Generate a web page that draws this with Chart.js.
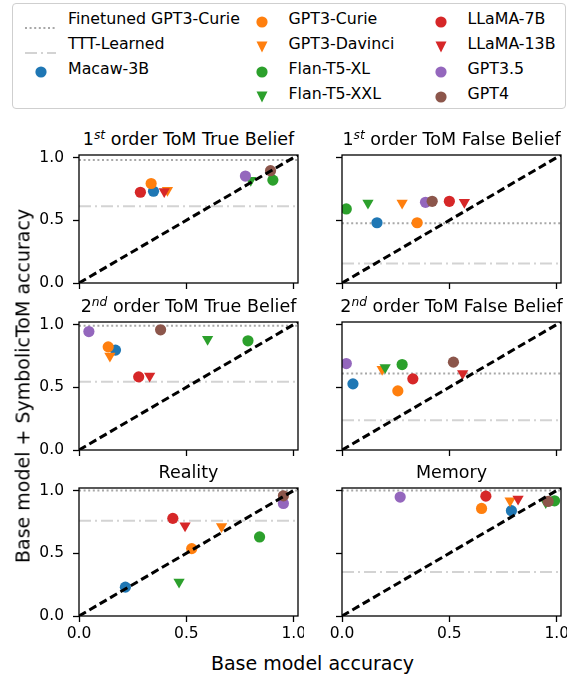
<!DOCTYPE html>
<html><head><meta charset="utf-8">
<script src="https://cdn.jsdelivr.net/npm/chart.js@4.4.0/dist/chart.umd.min.js"></script>
<style>
html,body{margin:0;padding:0;background:#fff;}
body{width:576px;height:675px;position:relative;overflow:hidden;font-family:"DejaVu Sans",sans-serif;color:#000;}
canvas{position:absolute;}
.t{position:absolute;white-space:nowrap;line-height:1;z-index:5;}
#legend{position:absolute;left:12px;top:3px;width:552px;height:104px;border:1px solid #cfcfcf;border-radius:4px;z-index:5;}
.li{position:absolute;white-space:nowrap;line-height:1;font-size:15.8px;}
.ls{position:absolute;}
</style></head><body>
<div id="legend"></div>
<script>
// ---- data ----
const MODELS = ['Macaw-3B','GPT3-Curie','GPT3-Davinci','Flan-T5-XL','Flan-T5-XXL','LLaMA-7B','LLaMA-13B','GPT3.5','GPT4'];
const COLORS = ['#1f77b4','#ff7f0e','#ff7f0e','#2ca02c','#2ca02c','#d62728','#d62728','#9467bd','#8c564b'];
const SHAPES = ['circle','circle','triangle','circle','triangle','circle','triangle','circle','circle'];
const TITLES = ['1st order ToM True Belief','1st order ToM False Belief','2nd order ToM True Belief','2nd order ToM False Belief','Reality','Memory'];
// base model accuracy per panel (models in MODELS order)
const BASE_ACC = [
  [0.347, 0.336, 0.412, 0.903, 0.800, 0.286, 0.397, 0.775, 0.892],
  [0.163, 0.350, 0.280, 0.020, 0.121, 0.500, 0.570, 0.389, 0.420],
  [0.170, 0.136, 0.144, 0.787, 0.599, 0.278, 0.329, 0.046, 0.380],
  [0.051, 0.260, 0.187, 0.280, 0.201, 0.330, 0.562, 0.020, 0.519],
  [0.216, 0.525, 0.664, 0.841, 0.466, 0.437, 0.494, 0.952, 0.952],
  [0.789, 0.650, 0.783, 0.990, 0.949, 0.670, 0.820, 0.271, 0.960]
];
// base model + SymbolicToM accuracy per panel
const SYM_ACC = [
  [0.731, 0.793, 0.740, 0.820, 0.818, 0.723, 0.730, 0.852, 0.895],
  [0.480, 0.480, 0.638, 0.590, 0.638, 0.651, 0.643, 0.643, 0.651],
  [0.796, 0.822, 0.750, 0.870, 0.883, 0.583, 0.590, 0.944, 0.958],
  [0.527, 0.471, 0.644, 0.681, 0.657, 0.567, 0.609, 0.689, 0.700],
  [0.230, 0.537, 0.714, 0.630, 0.270, 0.778, 0.720, 0.897, 0.958],
  [0.839, 0.857, 0.918, 0.918, 0.905, 0.955, 0.932, 0.948, 0.913]
];
const FINETUNED_CURIE = [0.98, 0.477, 0.99, 0.609, 1.0, 1.0];
const TTT_LEARNED = [0.611, 0.156, 0.543, 0.237, 0.76, 0.35];
const AXIS_TICKS = [0, 0.5, 1.0];
const AXIS_MAX = 1.02;

// ---- layout ----
const PLOT_LEFT = [79, 342], PLOT_TOP = [155, 322, 488], PLOT_W = 219, PLOT_H = 128;
const PAD_L = 50, PAD_R = 6, PAD_T = 6, PAD_B = 34;
const FONT = 'DejaVu Sans';
const FINETUNE_STYLE = {color:'#a8a8a8', dash:[2,2.6], width:2};
const TTT_STYLE = {color:'#d3d3d3', dash:[12,4,2,4], width:2};

const framePlugin = {
  id:'frame',
  afterDatasetsDraw(chart){
    const a = chart.chartArea, ctx = chart.ctx;
    ctx.save(); ctx.strokeStyle='#000'; ctx.lineWidth=1.3;
    ctx.strokeRect(a.left, a.top, a.right-a.left, a.bottom-a.top);
    ctx.restore();
  }
};

function addText(html, css){
  const d = document.createElement('div');
  d.className='t'; d.innerHTML = html; Object.assign(d.style, css);
  document.body.appendChild(d); return d;
}

for (let p = 0; p < 6; p++){
  const r = Math.floor(p/2), c = p%2;
  const cv = document.createElement('canvas');
  const W = PAD_L+PLOT_W+PAD_R, H = PAD_T+PLOT_H+PAD_B;
  cv.width = W; cv.height = H;
  cv.style.left = (PLOT_LEFT[c]-PAD_L)+'px'; cv.style.top = (PLOT_TOP[r]-PAD_T)+'px';
  cv.style.width = W+'px'; cv.style.height = H+'px';
  document.body.appendChild(cv);

  const datasets = [];
  datasets.push({data:[{x:0,y:0},{x:AXIS_MAX,y:AXIS_MAX}], showLine:true, borderColor:'#000', borderWidth:3, borderDash:[8,4], pointRadius:0, order:0});
  datasets.push({data:[{x:0,y:FINETUNED_CURIE[p]},{x:AXIS_MAX,y:FINETUNED_CURIE[p]}], showLine:true, borderColor:FINETUNE_STYLE.color, borderWidth:FINETUNE_STYLE.width, borderDash:FINETUNE_STYLE.dash, pointRadius:0, order:40});
  datasets.push({data:[{x:0,y:TTT_LEARNED[p]},{x:AXIS_MAX,y:TTT_LEARNED[p]}], showLine:true, borderColor:TTT_STYLE.color, borderWidth:TTT_STYLE.width, borderDash:TTT_STYLE.dash, pointRadius:0, order:41});
  MODELS.forEach((m,i)=>{
    const tri = SHAPES[i]==='triangle';
    datasets.push({label:m, data:[{x:BASE_ACC[p][i], y:SYM_ACC[p][i]}],
      pointStyle:SHAPES[i], pointRotation: tri?180:0, pointRadius: tri?6.5:5.6,
      pointBackgroundColor:COLORS[i], pointBorderWidth:0, borderWidth:0, clip:0, order:20-i});
  });

  const tickFont = {family:FONT, size:15.5};
  new Chart(cv, {
    type:'scatter',
    data:{datasets},
    options:{
      responsive:false, animation:false, devicePixelRatio:1, events:[],
      layout:{padding:{left:0,top:PAD_T,right:PAD_R,bottom:0}, autoPadding:false},
      plugins:{legend:{display:false}, tooltip:{enabled:false}, title:{display:false}},
      scales:{
        x:{type:'linear', min:0, max:AXIS_MAX,
          afterBuildTicks:s=>{ s.ticks = AXIS_TICKS.map(v=>({value:v})); },
          afterFit:s=>{ s.height = PAD_B; s.paddingLeft=0; s.paddingRight=0; },
          border:{display:false},
          grid:{display:true, drawOnChartArea:false, drawTicks:true, tickLength:6, tickColor:'#000', tickWidth:1.3},
          ticks:{display:r===2, padding:3, font:tickFont, color:'#000', maxRotation:0, autoSkip:false, callback:v=>Number(v).toFixed(1)}
        },
        y:{type:'linear', min:0, max:AXIS_MAX,
          afterBuildTicks:s=>{ s.ticks = AXIS_TICKS.map(v=>({value:v})); },
          afterFit:s=>{ s.width = PAD_L; s.paddingTop=0; s.paddingBottom=0; },
          border:{display:false},
          grid:{display:true, drawOnChartArea:false, drawTicks:true, tickLength:6, tickColor:'#000', tickWidth:1.3},
          ticks:{display:c===0, padding:9, font:tickFont, color:'#000', callback:v=>Number(v).toFixed(1)}
        }
      }
    },
    plugins:[framePlugin]
  });

  // subplot title
  const th = TITLES[p].replace(/^(\d)(st|nd|rd|th)/, '$1<span style="font-size:0.7em;font-style:italic;position:relative;top:-0.5em">$2</span>');
  addText(th, {fontSize:'17.5px', left:(PLOT_LEFT[c]+PLOT_W/2)+'px', top:(PLOT_TOP[r]-9.5-14.8)+'px', transform:'translateX(-50%)'});
}

// axis labels
addText('Base model accuracy', {fontSize:'19px', left:'312.5px', top:'654px', transform:'translateX(-50%)'});
addText('Base model + SymbolicToM accuracy', {fontSize:'19px', left:'22.5px', top:'386px', transform:'translate(-50%,-50%) rotate(-90deg)'});

// legend
const legend = document.getElementById('legend');
const LEG_ROW_Y = [18.5, 43.5, 68.5, 93.5];
function legItem(sym, text, sx, tx, row){
  const y = LEG_ROW_Y[row];
  const s = document.createElement('div'); s.className='ls'; s.innerHTML = sym.svg;
  s.style.left = (sx - 12 - sym.w/2)+'px'; s.style.top = (y + sym.dy - 4 - sym.h/2)+'px';
  legend.appendChild(s);
  const t = document.createElement('div'); t.className='li'; t.textContent = text;
  t.style.left = (tx-13)+'px'; t.style.top = (y - 7.5 - 4)+'px';
  legend.appendChild(t);
}
function lineSym(st){
  return {w:31,h:6,dy:0,svg:`<svg width="31" height="6"><line x1="0" y1="3" x2="31" y2="3" stroke="${st.color}" stroke-width="${st.width}" stroke-dasharray="${st.dash.join(',')}"/></svg>`};
}
function markSym(i){
  const col = COLORS[i];
  const inner = SHAPES[i]==='triangle'
    ? `<polygon points="1.5,1.5 12.5,1.5 7,12.5" fill="${col}"/>`
    : `<circle cx="7" cy="7" r="5.6" fill="${col}"/>`;
  return {w:14,h:14,dy:2,svg:`<svg width="14" height="14">${inner}</svg>`};
}
legItem(lineSym(FINETUNE_STYLE), 'Finetuned GPT3-Curie', 39.5, 68, 0);
legItem(lineSym(TTT_STYLE), 'TTT-Learned', 39.5, 68, 1);
legItem(markSym(0), MODELS[0], 40, 68, 2);
for (let i=1;i<=4;i++) legItem(markSym(i), MODELS[i], 261, 288.5, i-1);
for (let i=5;i<=8;i++) legItem(markSym(i), MODELS[i], 440, 467.5, i-5);
</script>
</body></html>
